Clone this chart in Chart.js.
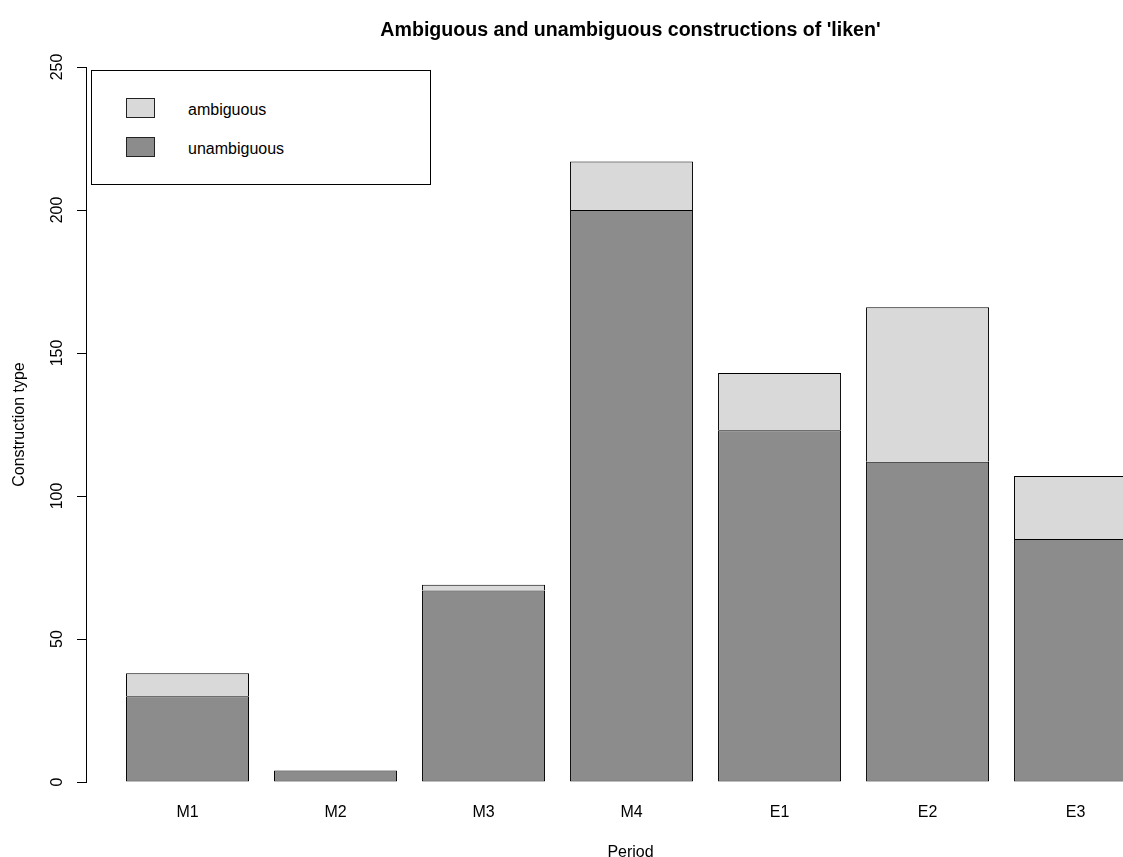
<!DOCTYPE html>
<html><head><meta charset="utf-8">
<script src="https://cdn.jsdelivr.net/npm/chart.js@4.4.1/dist/chart.umd.min.js"></script>
<style>
html,body{margin:0;padding:0;background:#fff;overflow:hidden;}
#wrap{position:relative;width:1123px;height:857px;overflow:hidden;background:#fff;}
#c{position:absolute;left:0;top:0;}
#legend{position:absolute;left:91px;top:70px;width:340px;height:115px;box-sizing:border-box;border:1px solid #000;background:#fff;font-family:'Liberation Sans',Arial,sans-serif;font-size:16px;color:#000;}
.item{position:absolute;left:34px;height:20px;}
.sw{position:absolute;left:0;top:0;width:29px;height:20px;box-sizing:border-box;border:1px solid #222;}
.lab{position:absolute;left:62px;top:2px;line-height:20px;white-space:nowrap;}
</style></head>
<body><div id="wrap"><canvas id="c" width="1175" height="870"></canvas><div id="legend"></div></div>
<script>
const categories = ['M1','M2','M3','M4','E1','E2','E3'];
const unambiguous = [30, 4, 67, 200, 123, 112, 85];
const ambiguous = [8, 0, 2, 17, 20, 54, 22];
const yTicks = [0, 50, 100, 150, 200, 250];
const seriesNames = ['unambiguous', 'ambiguous'];
const seriesColors = ['#8c8c8c', '#d9d9d9'];
const titleText = "Ambiguous and unambiguous constructions of 'liken'";
const xTitle = 'Period';
const yTitle = 'Construction type';

const FONT = "'Liberation Sans', Arial, Helvetica, sans-serif";
Chart.defaults.font.family = FONT;
Chart.defaults.font.size = 16;
Chart.defaults.color = '#000';

const seriesValues = [unambiguous, ambiguous];
const skipped = [false, 'start'];
const datasets = seriesNames.map((name, k) => ({
  label: name,
  data: seriesValues[k].map((v, i) => ({x: i, y: v})),
  backgroundColor: seriesColors[k],
  borderColor: '#000',
  borderWidth: 1,
  borderSkipped: skipped[k]
}));

const chart = new Chart(document.getElementById('c'), {
  type: 'bar',
  data: {datasets},
  options: {
    responsive: false,
    animation: false,
    devicePixelRatio: 1,
    categoryPercentage: 123 / 148,
    barPercentage: 1,
    layout: {padding: 0},
    plugins: {
      legend: {display: false},
      tooltip: {enabled: false},
      title: {
        display: true, fullSize: false, text: titleText, color: '#000',
        font: {size: 19.6, weight: 'bold'},
        padding: {top: 18.4, bottom: 25.1}
      }
    },
    scales: {
      x: {
        type: 'linear', stacked: true, min: -0.686, max: 6.672, offset: false,
        afterBuildTicks: s => { s.ticks = categories.map((c, i) => ({value: i})); },
        afterFit: s => { s.height = 88; },
        ticks: {callback: v => categories[v], autoSkip: false, maxRotation: 0, minRotation: 0, padding: 13},
        grid: {display: false},
        border: {display: false},
        title: {display: true, text: xTitle, padding: {top: 0, bottom: 7.4}}
      },
      y: {
        stacked: true, min: 0, max: 250,
        afterBuildTicks: s => { s.ticks = yTicks.map(v => ({value: v})); },
        afterFit: s => { s.width = 86; },
        ticks: {minRotation: 90, maxRotation: 90, crossAlign: 'center', padding: 6, autoSkip: false},
        grid: {display: true, drawOnChartArea: false, drawTicks: true, tickLength: 9, color: '#000', tickColor: '#000', lineWidth: 1},
        border: {display: true, color: '#000', width: 1},
        title: {display: true, text: yTitle, padding: {top: 10.4, bottom: 0}}
      }
    }
  }
});

// legend built from the datasets (listed top-down in reverse stacking order)
const legendTops = [66, 27];
const legend = document.getElementById('legend');
chart.data.datasets.forEach((ds, k) => {
  const item = document.createElement('div');
  item.className = 'item';
  item.style.top = legendTops[k] + 'px';
  const sw = document.createElement('div');
  sw.className = 'sw';
  sw.style.background = ds.backgroundColor;
  const lab = document.createElement('div');
  lab.className = 'lab';
  lab.textContent = ds.label;
  item.appendChild(sw); item.appendChild(lab);
  legend.appendChild(item);
});
</script>
</body></html>
